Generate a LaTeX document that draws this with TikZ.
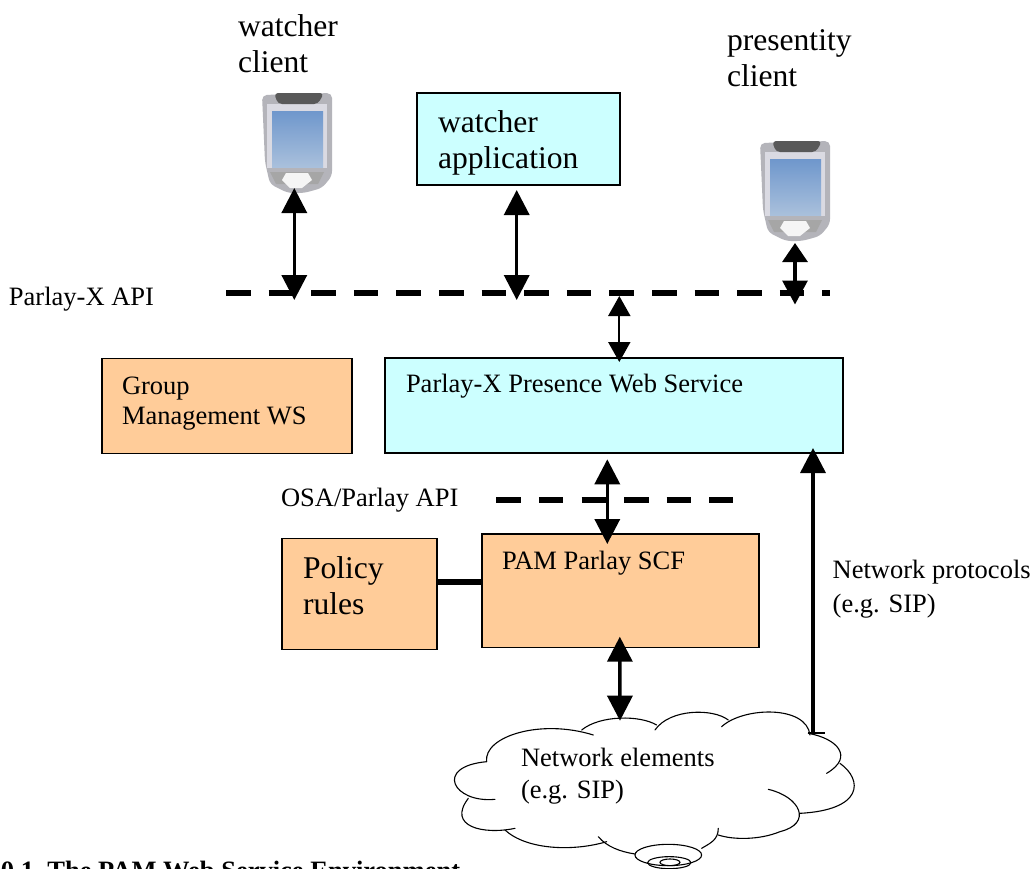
\documentclass[tikz,border=0pt]{standalone}
\usepackage{fontspec}
\setmainfont{Liberation Serif}
\usetikzlibrary{arrows.meta,shadings}
\definecolor{boxcyan}{HTML}{CCFFFF}
\definecolor{boxorange}{HTML}{FFCC99}
\definecolor{scrtop}{HTML}{6F97CC}
\definecolor{scrbot}{HTML}{A9C0DC}
\definecolor{pdabody}{HTML}{B4B4BA}
\definecolor{pdaface}{HTML}{DADAE2}
\tikzset{
  x=1pt,y=-1pt,
  lbl/.style={inner sep=0pt,outer sep=0pt,anchor=base west,align=left},
  big/.style={font=\fontsize{31.6}{36}\selectfont},
  small/.style={font=\fontsize{26.5}{30}\selectfont},
  cyanbox/.style={draw=black,line width=1.5pt,fill=boxcyan},
  orangebox/.style={draw=black,line width=1.5pt,fill=boxorange},
  area/.style={inner sep=0pt,outer sep=0pt,anchor=north west},
  biga/.style={line width=3.5pt,{Triangle[length=25pt,width=25pt]}-{Triangle[length=25pt,width=25pt]}},
  mida/.style={line width=2pt,{Triangle[length=20pt,width=22pt]}-{Triangle[length=20pt,width=22pt]}},
  singlea/.style={line width=3.5pt,-{Triangle[length=25pt,width=25pt]}},
  apidash/.style={line width=6.3pt,dash pattern=on 24.5pt off 18.1pt},
  cloudl/.style={line width=1.1pt,line cap=round}
}
\newcommand{\pda}[3]{% name, x, y (top left)
  \node[area,minimum width=70pt,minimum height=101pt] (#1) at (#2,#3) {};
  \begin{scope}[shift={(#2,#3)}]
    \fill[pdabody,rounded corners=5pt] (0,3) -- (70,1) -- (70,84) -- (60,96) -- (42,101) -- (26,101) -- (8,92) -- (3,70) -- cycle;
    \fill[pdaface] (5,12) -- (65,12) -- (65,76) -- (5,76) -- cycle;
    \fill[black!65,rounded corners=4pt] (12,1) -- (62,1) -- (56,12) -- (16,12) -- cycle;
    \shade[top color=scrtop,bottom color=scrbot] (10,19) rectangle (61,75);
    \fill[gray!70] (8,80) -- (62,80) -- (56,92) -- (14,92) -- cycle;
    \fill[white!92!gray] (24,81) -- (46,81) -- (50,88) -- (40,96) -- (28,96) -- (20,88) -- cycle;
  \end{scope}
}
\begin{document}
\begin{tikzpicture}
\useasboundingbox (0,0) rectangle (1034,868);
\clip (0,0) rectangle (1034,868);
\fill[white] (0,0) rectangle (1034,868);

% boxes
\node[area,minimum width=203pt,minimum height=92pt,cyanbox] (wapp) at (417,93) {};
\node[area,minimum width=458pt,minimum height=95pt,cyanbox] (pxws) at (385,358) {};
\node[area,minimum width=250pt,minimum height=95pt,orangebox] (gmws) at (102,358.5) {};
\node[area,minimum width=155pt,minimum height=111pt,orangebox] (policy) at (282,538.3) {};
\node[area,minimum width=277pt,minimum height=113.5pt,orangebox] (pam) at (482,534) {};

% devices
\pda{wdev}{262}{92}
\pda{pdev}{760}{140}

% api lines
\coordinate (pxa) at (226,293.3);
\coordinate (pxb) at (830,293.3);
\coordinate (osaa) at (496.3,500);
\coordinate (osab) at (733,500);
\draw[apidash] (pxa) -- (pxb);
\draw[apidash] (osaa) -- (osab);

% cloud
\begin{scope}[shift={(340,700)},x=0.3333pt,y=-0.3333pt,cloudl]
  \draw (440,185) .. controls (430,110) and (600,55) .. (760,105);
  \draw (725,90) .. controls (780,45) and (900,45) .. (950,75);
  \draw (945,90) .. controls (990,25) and (1120,25) .. (1165,60);
  \draw (1145,80) .. controls (1210,20) and (1400,15) .. (1410,105);
  \draw (1405,100) .. controls (1490,115) and (1545,170) .. (1460,220);
  \draw (1500,190) .. controls (1570,240) and (1570,330) .. (1380,340);
  \draw (1285,268) .. controls (1380,290) and (1420,370) .. (1320,395) .. controls (1260,420) and (1180,420) .. (1135,405);
  \draw (1135,385) .. controls (1135,420) and (1110,430) .. (1085,445);
  \draw (885,462) .. controls (840,455) and (800,440) .. (775,410);
  \draw (800,425) .. controls (700,455) and (560,450) .. (495,390);
  \draw (525,385) .. controls (430,405) and (320,380) .. (385,295);
  \draw (465,298) .. controls (340,310) and (280,200) .. (440,185);
  \draw (985,465) ellipse [x radius=100,y radius=32];
  \draw (988,488) ellipse [x radius=65,y radius=18];
  \draw (990,487) ellipse [x radius=30,y radius=10];
\end{scope}
\coordinate (cloudtop) at (620,720.7);
\coordinate (cloudright) at (813,733);
\coordinate (pxwsin) at (813,448);

% connectors
\coordinate (wdevtop) at (294.3,188);
\coordinate (wdevapi) at (294.3,300);
\coordinate (wapptop) at (516.7,190);
\coordinate (wappapi) at (516.7,300);
\coordinate (pdevtop) at (795,243);
\coordinate (pdevapi) at (795,304.5);
\coordinate (pxwsapi) at (619.3,296);
\coordinate (pxwstop) at (619.3,362);
\coordinate (osaws) at (607.3,459.3);
\coordinate (osapam) at (607.3,544);
\coordinate (pamdown) at (619.8,636.7);
\draw[biga] (wdevtop) -- (wdevapi);
\draw[biga] (wapptop) -- (wappapi);
\draw[biga,line width=3.2pt,{Triangle[length=19pt,width=25pt]}-{Triangle[length=24pt,width=25pt]}] (pdevtop) -- (pdevapi);
\draw[mida] (pxwsapi) -- (pxwstop);
\draw[biga] (osaws) -- (osapam);
\draw[biga] (pamdown) -- (cloudtop);
\draw[singlea] (cloudright) -- (pxwsin);
\draw[line width=1.5pt] (808,733) -- (825,733);
\draw[line width=6pt] (policy.east) ++(0,-11.5) coordinate (pl) (pl) -- (pl -| pam.west);

% text
\node[lbl,big] (t1) at (238,72) {watcher\\client};
\node[lbl,big] (t2) at (727,86) {presentity\\client};
\node[lbl,big] (t3) at (438,168) {watcher\\application};
\node[lbl,small] (t4) at (9,305) {Parlay-X API};
\node[lbl,small] (t5) at (122,424) {Group\\Management WS};
\node[lbl,small] (t6) at (406,392) {Parlay-X Presence Web Service};
\node[lbl,small] (t7) at (281,506) {OSA/Parlay API};
\node[lbl,big] (t8) at (303,614) {Policy\\rules};
\node[lbl,small] (t9) at (502,569) {PAM Parlay SCF};
\node[lbl,small,font=\fontsize{26.5}{34}\selectfont] (t10) at (832.7,612) {Network protocols\\(e.g. SIP)};
\node[lbl,small,font=\fontsize{26.5}{31.5}\selectfont] (t11) at (521,798) {Network elements\\(e.g. SIP)};
\node[lbl,font=\fontsize{26.5}{30}\selectfont\bfseries] (t12) at (1,879) {0.1\ \ The PAM Web Service Environment};
\end{tikzpicture}
\end{document}
